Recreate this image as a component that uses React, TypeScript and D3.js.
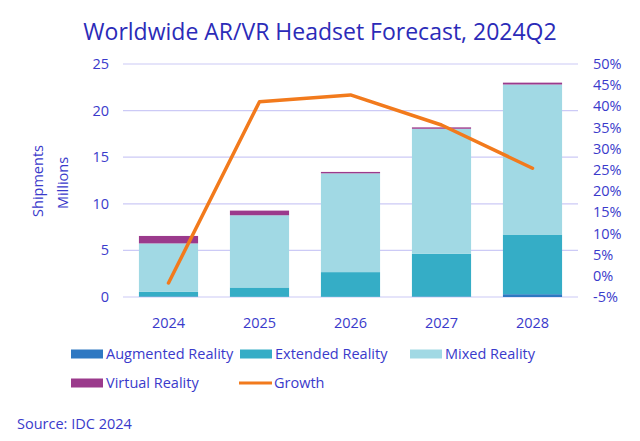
import React from "react";
import * as d3 from "d3";

const years = ["2024", "2025", "2026", "2027", "2028"];
const augmented = [0.05, 0.02, 0.02, 0.05, 0.3];
const extended = [0.5, 1.0, 2.65, 4.6, 6.4];
const mixed = [5.2, 7.75, 10.6, 13.4, 16.1];
const virtualR = [0.8, 0.5, 0.15, 0.15, 0.2];
const growth = [-1.7, 41.1, 42.7, 35.6, 25.4];
const leftTicks = [0, 5, 10, 15, 20, 25];
const rightTicks = [-5, 0, 5, 10, 15, 20, 25, 30, 35, 40, 45, 50];

const seriesNames = ["Augmented Reality", "Extended Reality", "Mixed Reality", "Virtual Reality"];
const seriesColors = ["#2e78c2", "#35adc6", "#a1d9e4", "#9b3a8c"];
const growthColor = "#f27a1c";
const textColor = "#3a3acb";
const gridColor = "#cccaf6";
const font = "'Open Sans', 'Noto Sans', sans-serif";

export default function App() {
  const W = 640, H = 441;
  const left = 123, right = 578, top = 64, bottom = 297;
  const x = d3.scaleBand().domain(years).range([left, right]).paddingInner(0.35).paddingOuter(0.175);
  const y = d3.scaleLinear().domain([0, 25]).range([bottom, top]);
  const y2 = d3.scaleLinear().domain([-5, 50]).range([bottom, top]);

  const rows = years.map((yr, i) => ({
    year: yr,
    a: augmented[i],
    e: extended[i],
    m: mixed[i],
    v: virtualR[i],
  }));
  const stack = d3.stack<any>().keys(["a", "e", "m", "v"])(rows);
  const line = d3
    .line<number>()
    .x((_, i) => (x(years[i]) as number) + x.bandwidth() / 2)
    .y((d) => y2(d));

  const fs = 14.5;

  return (
    <svg width={W} height={H} style={{ position: "absolute", left: 0, top: 0, background: "#fff" }} fontFamily={font}>
      <text x={320} y={40} textAnchor="middle" fontSize={23} fill="#2b2bb8">
        Worldwide AR/VR Headset Forecast, 2024Q2
      </text>
      {leftTicks.map((t) => (
        <g key={"l" + t}>
          <line x1={left} x2={right} y1={y(t)} y2={y(t)} stroke={gridColor} strokeWidth={1.2} />
          <text x={109} y={y(t)} dy="0.35em" textAnchor="end" fontSize={fs} fill={textColor}>
            {t}
          </text>
        </g>
      ))}
      {rightTicks.map((t) => (
        <text key={"r" + t} x={593} y={y2(t)} dy="0.35em" textAnchor="start" fontSize={fs} fill={textColor}>
          {t + "%"}
        </text>
      ))}
      <text transform="translate(43,181) rotate(-90)" textAnchor="middle" fontSize={fs} fill={textColor}>
        Shipments
      </text>
      <text transform="translate(68,183) rotate(-90)" textAnchor="middle" fontSize={fs} fill={textColor}>
        Millions
      </text>
      {stack.map((s, si) => (
        <g key={"s" + si}>
          {s.map((d, i) => (
            <rect
              key={i}
              x={x(years[i])}
              width={x.bandwidth()}
              y={y(d[1])}
              height={Math.max(0, y(d[0]) - y(d[1]))}
              fill={seriesColors[si]}
            />
          ))}
        </g>
      ))}
      <path d={line(growth) || ""} fill="none" stroke={growthColor} strokeWidth={3.5} strokeLinejoin="round" strokeLinecap="round" />
      {years.map((yr) => (
        <text key={"x" + yr} x={(x(yr) as number) + x.bandwidth() / 2} y={328} textAnchor="middle" fontSize={fs} fill={textColor}>
          {yr}
        </text>
      ))}
      {[
        { name: seriesNames[0], color: seriesColors[0], lx: 71, ly: 354, kind: "rect" },
        { name: seriesNames[1], color: seriesColors[1], lx: 240, ly: 354, kind: "rect" },
        { name: seriesNames[2], color: seriesColors[2], lx: 410, ly: 354, kind: "rect" },
        { name: seriesNames[3], color: seriesColors[3], lx: 71, ly: 383, kind: "rect" },
        { name: "Growth", color: growthColor, lx: 239, ly: 383, kind: "line" },
      ].map((l) => (
        <g key={l.name}>
          {l.kind === "rect" ? (
            <rect x={l.lx} y={l.ly - 4.5} width={32} height={9} fill={l.color} />
          ) : (
            <line x1={l.lx} x2={l.lx + 33} y1={l.ly} y2={l.ly} stroke={l.color} strokeWidth={3} />
          )}
          <text x={l.lx + 35} y={l.ly} dy="0.35em" fontSize={fs} fill={textColor}>
            {l.name}
          </text>
        </g>
      ))}
      <text x={17} y={429} fontSize={fs} fill={textColor}>
        Source: IDC 2024
      </text>
    </svg>
  );
}
